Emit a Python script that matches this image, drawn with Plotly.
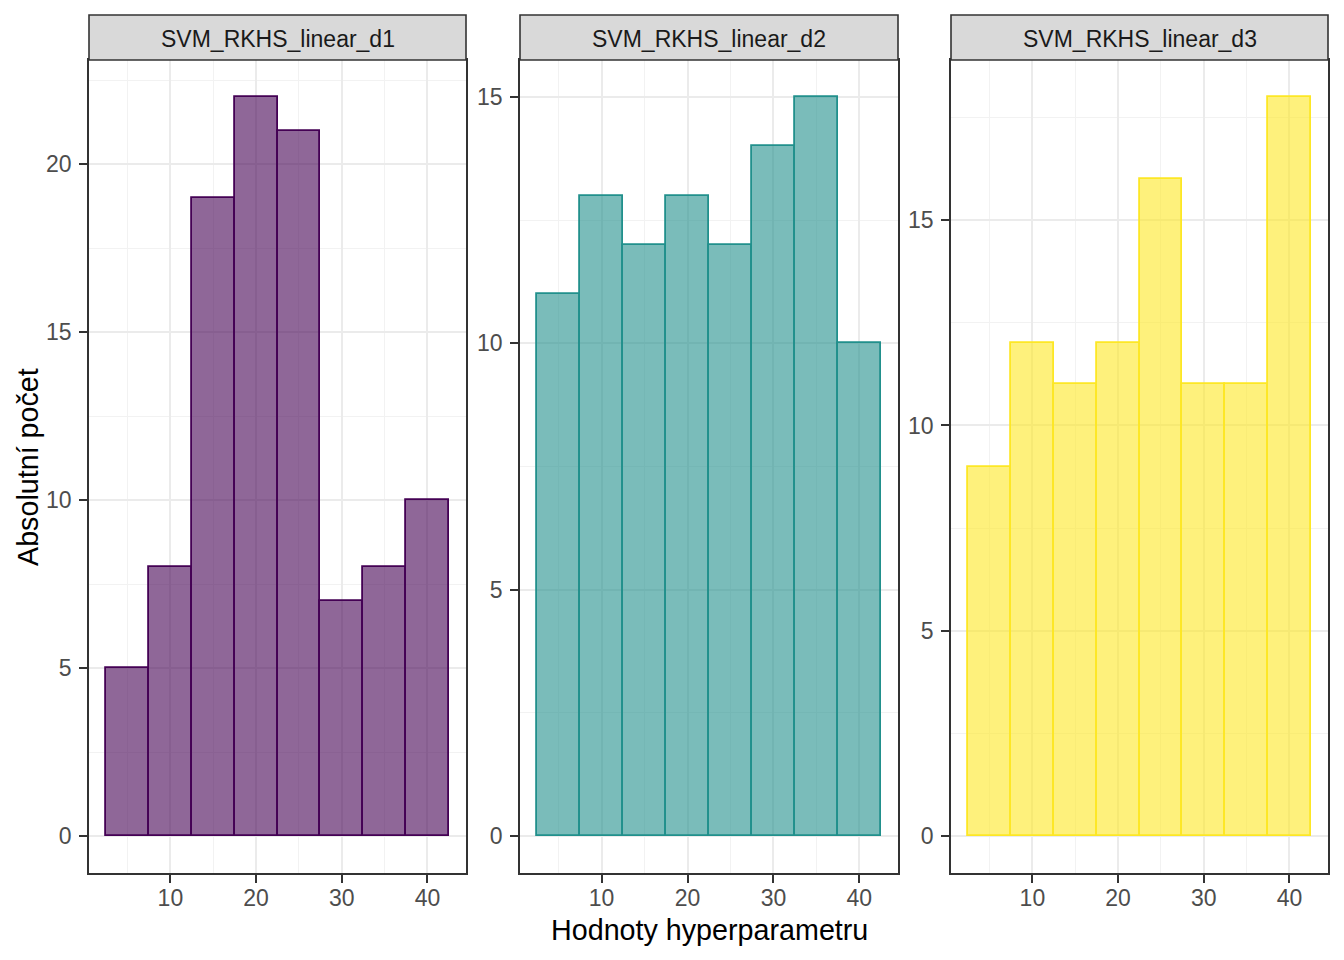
import plotly.graph_objects as go

panels = ["SVM_RKHS_linear_d1", "SVM_RKHS_linear_d2", "SVM_RKHS_linear_d3"]
bin_centers = [5, 10, 15, 20, 25, 30, 35, 40]
counts_d1 = [5, 8, 19, 22, 21, 7, 8, 10]
counts_d2 = [11, 13, 12, 13, 12, 14, 15, 10]
counts_d3 = [9, 12, 11, 12, 16, 11, 11, 18]
all_counts = [counts_d1, counts_d2, counts_d3]
line_colors = ["#440154", "#21908C", "#FDE725"]
fill_colors = ["rgba(68,1,84,0.6)", "rgba(33,144,140,0.6)", "rgba(253,231,37,0.6)"]
y_ticks = [[0, 5, 10, 15, 20], [0, 5, 10, 15], [0, 5, 10, 15]]
x_ticks = [10, 20, 30, 40]

# page body has an 8px margin; figure drawn 16px smaller, coordinates shifted
OFF = 8
W, H = 1344 - 2 * OFF, 960 - 2 * OFF
px_x = [(89 - OFF, 466 - OFF), (520 - OFF, 898 - OFF), (951 - OFF, 1328 - OFF)]
plot_top, plot_bot = 60 - OFF, 873 - OFF
strip_top = 15 - OFF

FONT = "Liberation Sans, Arial"
TICK_SIZE = 23
TITLE_SIZE = 28.7

fig = go.Figure()
shapes = []
annotations = []
for i, (name, counts) in enumerate(zip(panels, all_counts)):
    ax = "" if i == 0 else str(i + 1)
    fig.add_trace(go.Bar(
        x=bin_centers, y=counts, width=5,
        marker=dict(color=fill_colors[i], line=dict(color=line_colors[i], width=1.8)),
        xaxis="x" + ax, yaxis="y" + ax, showlegend=False,
    ))
    ymax = max(counts)
    x0, x1 = px_x[i][0] / W, px_x[i][1] / W
    common = dict(
        showline=True, linecolor="#333333", linewidth=1.6, mirror=True,
        ticks="outside", ticklen=8, tickcolor="#333333", tickwidth=1.6,
        tickfont=dict(family=FONT, size=TICK_SIZE, color="#4D4D4D"),
        showgrid=True, gridcolor="#EBEBEB", gridwidth=1.6,
        zeroline=False,
    )
    xa = dict(common, domain=[x0, x1], range=[0.5, 44.5], tickvals=x_ticks,
              anchor="y" + ax, ticklabelstandoff=-4)
    xa["minor"] = dict(showgrid=True, gridcolor="#F2F2F2", gridwidth=0.9,
                       tickvals=[5, 15, 25, 35])
    ya = dict(common, domain=[(H - plot_bot) / H, (H - plot_top) / H],
              range=[-0.05 * ymax, 1.05 * ymax], tickvals=y_ticks[i], anchor="x" + ax,
              ticklabelstandoff=3)
    ya["minor"] = dict(showgrid=True, gridcolor="#F2F2F2", gridwidth=0.9,
                       tickvals=[v + 2.5 for v in y_ticks[i]])
    fig.update_layout(**{"xaxis" + ax: xa, "yaxis" + ax: ya})
    shapes.append(dict(type="rect", xref="paper", yref="paper",
                       x0=x0, x1=x1, y0=(H - plot_top) / H, y1=(H - strip_top) / H,
                       fillcolor="#D9D9D9", line=dict(color="#333333", width=1.6), layer="above"))
    annotations.append(dict(text=name, xref="paper", yref="paper",
                            x=(x0 + x1) / 2, y=(H - (plot_top + strip_top) / 2 - 1.5) / H,
                            showarrow=False, xanchor="center", yanchor="middle",
                            font=dict(family=FONT, size=TICK_SIZE, color="#1A1A1A")))

annotations.append(dict(text="Hodnoty hyperparametru", xref="paper", yref="paper",
                        x=(709 - OFF) / W, y=(H - (930 - OFF)) / H,
                        showarrow=False, xanchor="center", yanchor="middle",
                        font=dict(family=FONT, size=TITLE_SIZE, color="#000000")))
annotations.append(dict(text="Absolutní počet", xref="paper", yref="paper",
                        x=(28 - OFF) / W, y=(H - (467 - OFF)) / H, textangle=-90,
                        showarrow=False, xanchor="center", yanchor="middle",
                        font=dict(family=FONT, size=TITLE_SIZE, color="#000000")))

fig.update_layout(
    width=W, height=H, margin=dict(l=0, r=0, t=0, b=0),
    paper_bgcolor="white", plot_bgcolor="white", bargap=0,
    shapes=shapes, annotations=annotations,
)
fig.write_html("out.html")
